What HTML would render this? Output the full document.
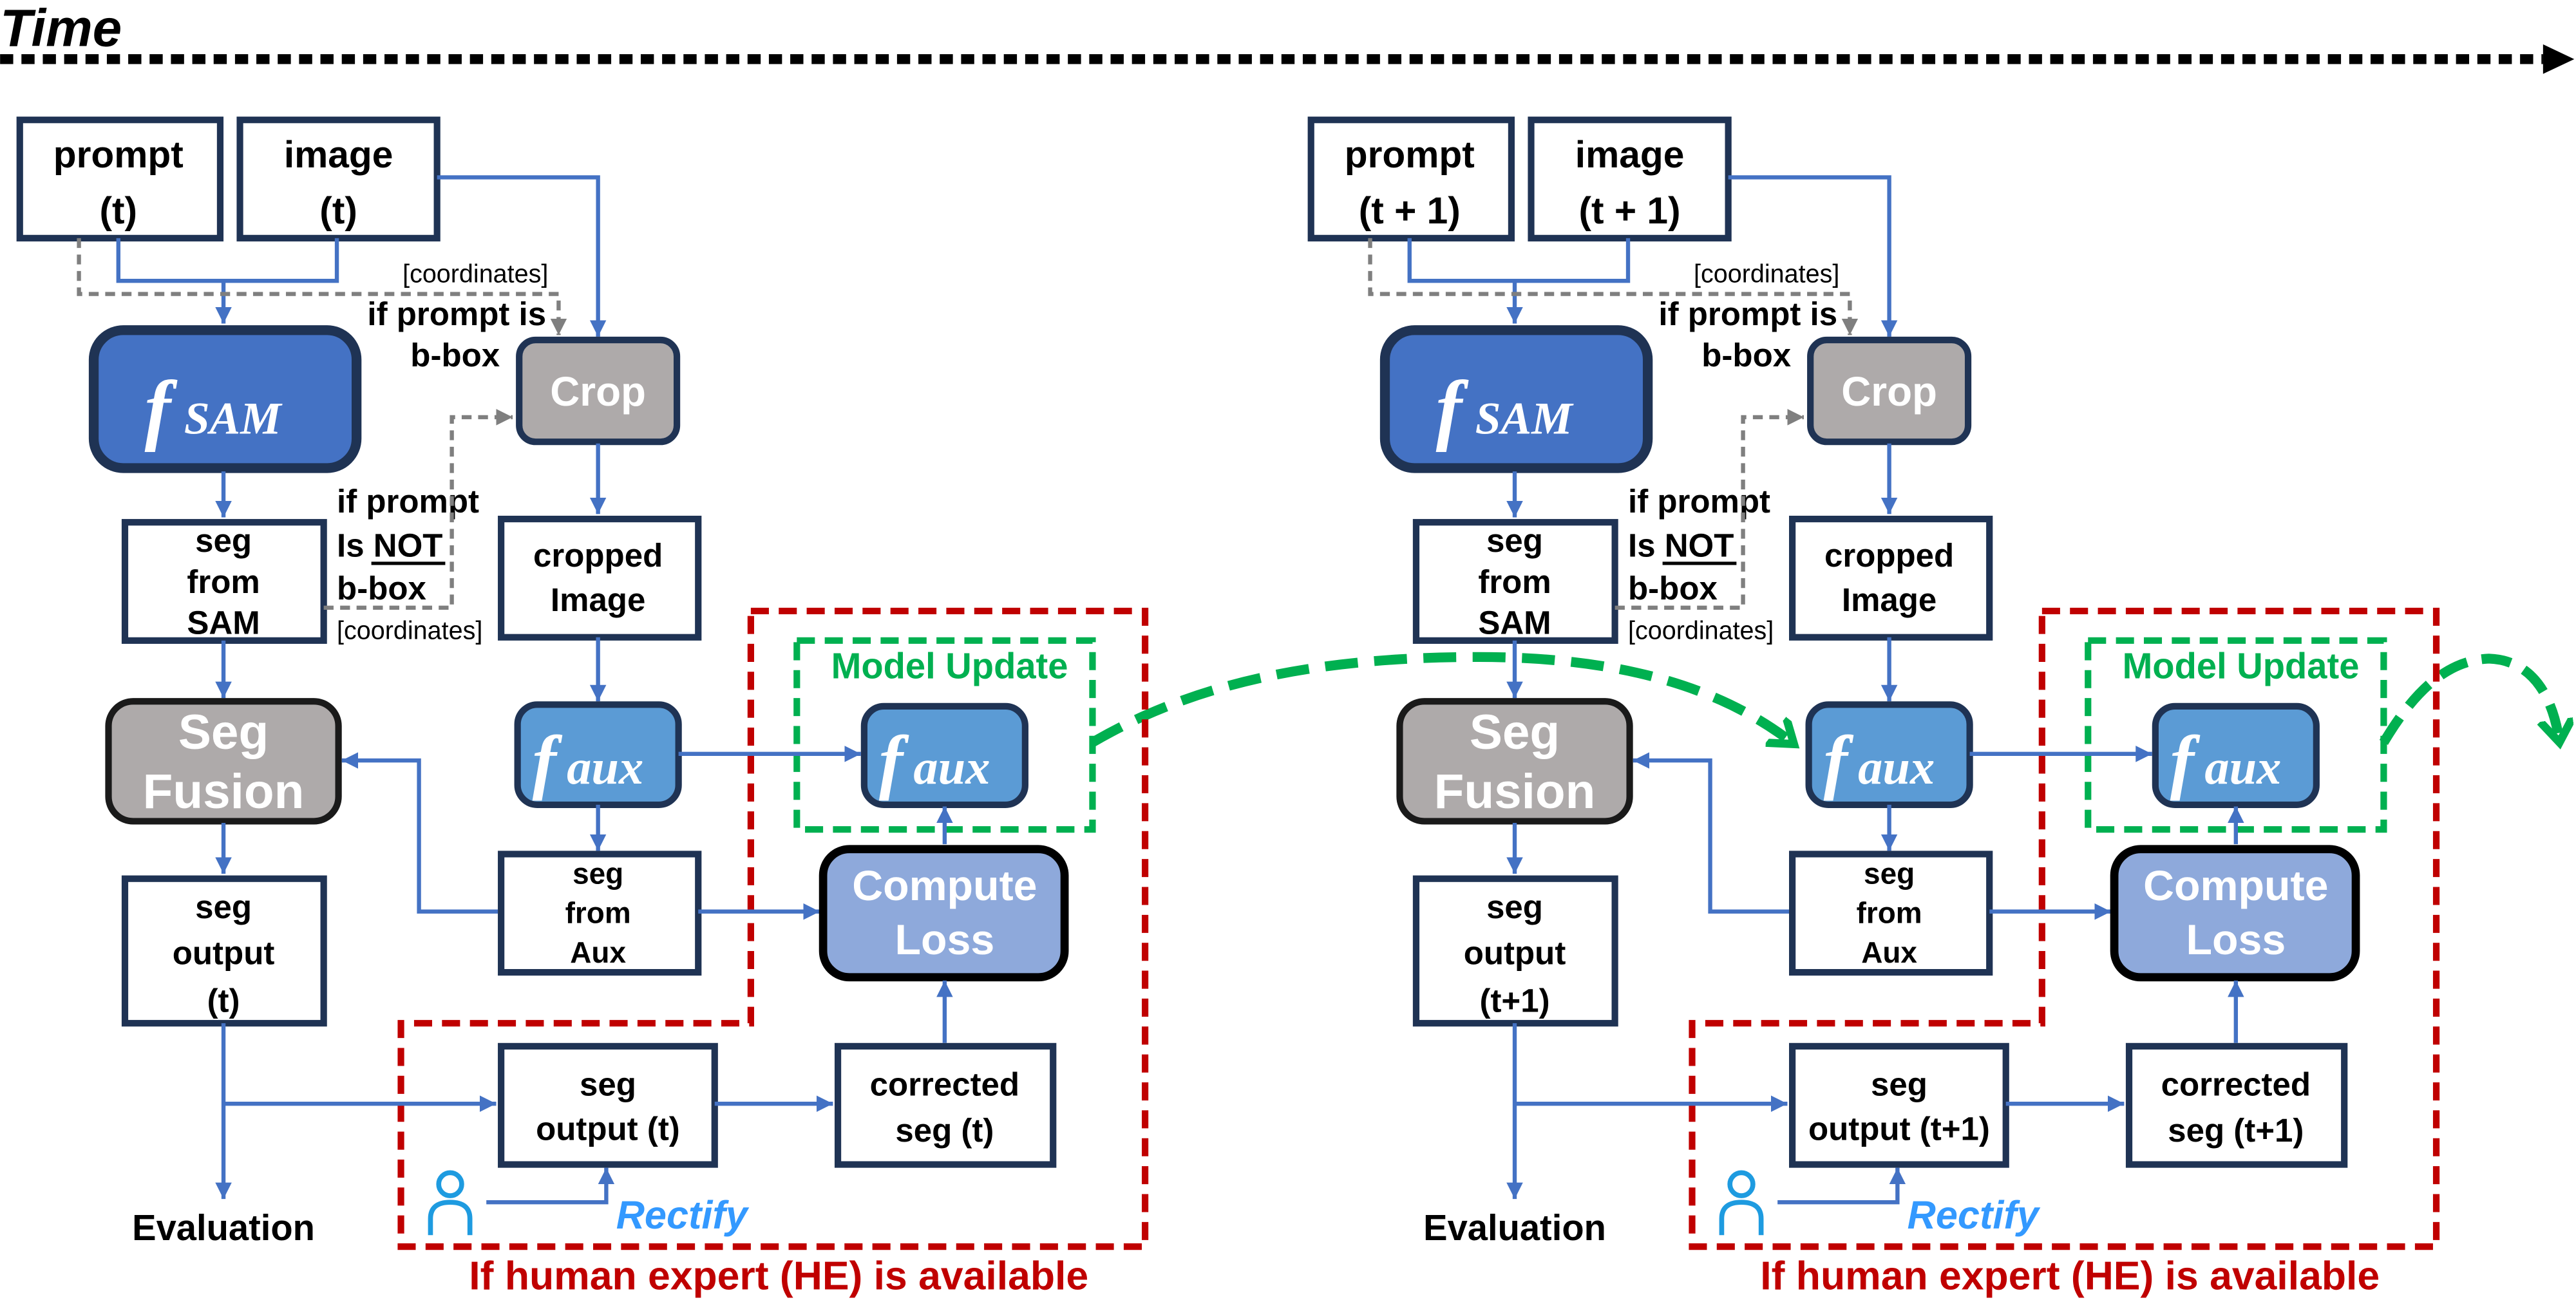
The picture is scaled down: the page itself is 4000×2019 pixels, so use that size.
<!DOCTYPE html>
<html><head><meta charset="utf-8"><style>
html,body{margin:0;padding:0;background:#fff;}
svg{display:block;}
text{font-family:"Liberation Sans",sans-serif;}
.bt{font-weight:bold;font-size:23px;fill:#000;text-anchor:middle;}
.st{font-weight:bold;font-size:20px;fill:#000;text-anchor:middle;}
.co{font-size:15.5px;fill:#000;}
.wt{font-weight:bold;font-size:26px;fill:#fff;text-anchor:middle;}
.sf{font-weight:bold;font-size:30px;fill:#fff;text-anchor:middle;}
.box{fill:#fff;stroke:#1F3354;stroke-width:4;}
.bl{fill:none;stroke:#4472C4;stroke-width:2.5;}
.gd{fill:none;stroke:#7F7F7F;stroke-width:2.5;stroke-dasharray:6 4;}
.rd{fill:none;stroke:#C00000;stroke-width:4;stroke-dasharray:11 6;}
.gr{fill:none;stroke:#00B050;stroke-width:4;stroke-dasharray:11 6;}
.fs{font-family:"Liberation Serif",serif;font-style:italic;font-weight:bold;fill:#fff;}
.mu{font-weight:bold;font-size:22px;fill:#00B050;text-anchor:middle;}
.re{font-style:italic;font-weight:bold;font-size:24px;fill:#3399FF;}
.he{font-weight:bold;font-size:24.5px;fill:#C00000;text-anchor:middle;}
.ev{font-weight:bold;font-size:22px;fill:#000;text-anchor:middle;}
</style></head><body>
<svg width="4000" height="2019" viewBox="0 0 1568 791.5" xmlns="http://www.w3.org/2000/svg">
<defs>
<marker id="ab" markerUnits="userSpaceOnUse" markerWidth="12" markerHeight="12" refX="10" refY="5" orient="auto"><path d="M0,0 L10,5 L0,10 z" fill="#4472C4"/></marker>
<marker id="ag" markerUnits="userSpaceOnUse" markerWidth="12" markerHeight="12" refX="10" refY="5" orient="auto"><path d="M0,0 L10,5 L0,10 z" fill="#7F7F7F"/></marker>
<marker id="agr" markerUnits="userSpaceOnUse" markerWidth="24" markerHeight="24" refX="14" refY="10" orient="auto"><path d="M0,0 L14,10 L0,20" fill="none" stroke="#00B050" stroke-width="5"/></marker>
</defs>

<text x="0" y="28" style="font-style:italic;font-weight:bold;font-size:32px;fill:#000">Time</text>
<line x1="0" y1="36" x2="1548" y2="36" stroke="#000" stroke-width="6" stroke-dasharray="8 5"/>
<path d="M1548,27 L1567,36 L1548,45 z" fill="#000"/>

<path d="M665,452 C720,420 790,400 900,400 C990,400 1050,420 1092,453" fill="none" stroke="#00B050" stroke-width="6" stroke-dasharray="20 10" marker-end="url(#agr)"/>
<path d="M1451,452 C1470,420 1490,402 1515,401 C1545,402 1555,430 1558,452" fill="none" stroke="#00B050" stroke-width="6" stroke-dasharray="18 9" marker-end="url(#agr)"/>

<!-- PANEL 1 -->
<g>
<rect class="box" x="12" y="73" width="122" height="72"/>
<text class="bt" x="72" y="102">prompt</text><text class="bt" x="72" y="136">(t)</text>
<rect class="box" x="146" y="73" width="120" height="72"/>
<text class="bt" x="206" y="102">image</text><text class="bt" x="206" y="136">(t)</text>

<path class="bl" d="M72,145 V171 H205 V145"/>
<path class="bl" d="M136,171 V197" marker-end="url(#ab)"/>
<path class="gd" d="M48,145 V179 H340 V204" marker-end="url(#ag)"/>
<path class="bl" d="M266,108 H364 V205" marker-end="url(#ab)"/>
<text class="co" x="245" y="172">[coordinates]</text>
<text class="st" x="278" y="198">if prompt is</text>
<text class="st" x="277" y="223">b-box</text>

<rect x="57" y="201" width="160" height="84" rx="18" fill="#4472C4" stroke="#1F3354" stroke-width="6"/>
<text class="fs" x="88" y="265" font-size="48">f</text><text class="fs" x="112" y="264" font-size="28">SAM</text>

<rect x="316" y="207" width="96" height="62" rx="10" fill="#AEAAAA" stroke="#1F3354" stroke-width="4"/>
<text x="364" y="247" style="font-size:25px;font-weight:bold;fill:#fff;text-anchor:middle">Crop</text>

<path class="bl" d="M136,287 V315" marker-end="url(#ab)"/>
<path class="bl" d="M364,270 V313" marker-end="url(#ab)"/>

<rect class="box" x="76" y="318" width="121" height="72"/>
<text class="st" x="136" y="336">seg</text><text class="st" x="136" y="361">from</text><text class="st" x="136" y="386">SAM</text>
<rect class="box" x="305" y="316" width="120" height="72"/>
<text class="st" x="364" y="345">cropped</text><text class="st" x="364" y="372">Image</text>

<text class="st" x="205" y="312" style="text-anchor:start">if prompt</text>
<text class="st" x="205" y="339" style="text-anchor:start">Is NOT</text>
<line x1="226" y1="343" x2="271" y2="343" stroke="#000" stroke-width="2"/>
<text class="st" x="205" y="365" style="text-anchor:start">b-box</text>
<text class="co" x="205" y="389">[coordinates]</text>
<path class="gd" d="M197,370 H275 V254 H312" marker-end="url(#ag)"/>

<path class="rd" d="M457,372 H697 V759 H244 V623 H457 Z"/>
<rect class="gr" x="485" y="390" width="180" height="115"/>
<text class="mu" x="578" y="413">Model Update</text>

<path class="bl" d="M136,390 V425" marker-end="url(#ab)"/>
<path class="bl" d="M364,388 V427" marker-end="url(#ab)"/>

<rect x="66" y="427" width="140" height="73" rx="15" fill="#AEAAAA" stroke="#1a1a1a" stroke-width="4"/>
<text class="sf" x="136" y="456">Seg</text><text class="sf" x="136" y="492">Fusion</text>

<rect x="315" y="429" width="98" height="61" rx="12" fill="#5B9BD5" stroke="#1F3354" stroke-width="4"/>
<text class="fs" x="324" y="478" font-size="44">f</text><text class="fs" x="345" y="477" font-size="30">aux</text>
<rect x="526" y="430" width="98" height="60" rx="12" fill="#5B9BD5" stroke="#1F3354" stroke-width="4"/>
<text class="fs" x="535" y="478" font-size="44">f</text><text class="fs" x="556" y="477" font-size="30">aux</text>
<path class="bl" d="M413,459 H524" marker-end="url(#ab)"/>
<path class="bl" d="M364,490 V518" marker-end="url(#ab)"/>

<rect class="box" x="305" y="520" width="120" height="72"/>
<text class="st" x="364" y="538" style="font-size:18px">seg</text><text class="st" x="364" y="562" style="font-size:18px">from</text><text class="st" x="364" y="586" style="font-size:18px">Aux</text>
<path class="bl" d="M303,555 H255 V463 H208" marker-end="url(#ab)"/>
<path class="bl" d="M425,555 H499" marker-end="url(#ab)"/>

<rect x="501" y="517" width="147" height="78" rx="16" fill="#8EA9DB" stroke="#000" stroke-width="5"/>
<text class="wt" x="575" y="548">Compute</text><text class="wt" x="575" y="581">Loss</text>
<path class="bl" d="M575,514 V491" marker-end="url(#ab)"/>

<path class="bl" d="M136,501 V532" marker-end="url(#ab)"/>
<rect class="box" x="76" y="535" width="121" height="88"/>
<text class="st" x="136" y="559">seg</text><text class="st" x="136" y="587">output</text><text class="st" x="136" y="616">(t)</text>

<path class="bl" d="M136,623 V730" marker-end="url(#ab)"/>
<path class="bl" d="M136,672 H302" marker-end="url(#ab)"/>
<text class="ev" x="136" y="755">Evaluation</text>

<rect class="box" x="305" y="637" width="130" height="72"/>
<text class="st" x="370" y="667">seg</text><text class="st" x="370" y="694">output (t)</text>
<path class="bl" d="M435,672 H507" marker-end="url(#ab)"/>
<rect class="box" x="510" y="637" width="131" height="72"/>
<text class="st" x="575" y="667">corrected</text><text class="st" x="575" y="695">seg (t)</text>
<path class="bl" d="M575,635 V597" marker-end="url(#ab)"/>

<circle cx="274" cy="721" r="7" fill="none" stroke="#1E9BE0" stroke-width="3"/>
<path d="M262,752 V742 Q262,732 274,732 Q286,732 286,742 V752" fill="none" stroke="#1E9BE0" stroke-width="3"/>
<path class="bl" d="M296,732 H369 V711" marker-end="url(#ab)"/>
<text class="re" x="375" y="748">Rectify</text>
<text class="he" x="474" y="785">If human expert (HE) is available</text>
</g>

<!-- PANEL 2 -->
<g transform="translate(786,0)">
<rect class="box" x="12" y="73" width="122" height="72"/>
<text class="bt" x="72" y="102">prompt</text><text class="bt" x="72" y="136">(t + 1)</text>
<rect class="box" x="146" y="73" width="120" height="72"/>
<text class="bt" x="206" y="102">image</text><text class="bt" x="206" y="136">(t + 1)</text>

<path class="bl" d="M72,145 V171 H205 V145"/>
<path class="bl" d="M136,171 V197" marker-end="url(#ab)"/>
<path class="gd" d="M48,145 V179 H340 V204" marker-end="url(#ag)"/>
<path class="bl" d="M266,108 H364 V205" marker-end="url(#ab)"/>
<text class="co" x="245" y="172">[coordinates]</text>
<text class="st" x="278" y="198">if prompt is</text>
<text class="st" x="277" y="223">b-box</text>

<rect x="57" y="201" width="160" height="84" rx="18" fill="#4472C4" stroke="#1F3354" stroke-width="6"/>
<text class="fs" x="88" y="265" font-size="48">f</text><text class="fs" x="112" y="264" font-size="28">SAM</text>

<rect x="316" y="207" width="96" height="62" rx="10" fill="#AEAAAA" stroke="#1F3354" stroke-width="4"/>
<text x="364" y="247" style="font-size:25px;font-weight:bold;fill:#fff;text-anchor:middle">Crop</text>

<path class="bl" d="M136,287 V315" marker-end="url(#ab)"/>
<path class="bl" d="M364,270 V313" marker-end="url(#ab)"/>

<rect class="box" x="76" y="318" width="121" height="72"/>
<text class="st" x="136" y="336">seg</text><text class="st" x="136" y="361">from</text><text class="st" x="136" y="386">SAM</text>
<rect class="box" x="305" y="316" width="120" height="72"/>
<text class="st" x="364" y="345">cropped</text><text class="st" x="364" y="372">Image</text>

<text class="st" x="205" y="312" style="text-anchor:start">if prompt</text>
<text class="st" x="205" y="339" style="text-anchor:start">Is NOT</text>
<line x1="226" y1="343" x2="271" y2="343" stroke="#000" stroke-width="2"/>
<text class="st" x="205" y="365" style="text-anchor:start">b-box</text>
<text class="co" x="205" y="389">[coordinates]</text>
<path class="gd" d="M197,370 H275 V254 H312" marker-end="url(#ag)"/>

<path class="rd" d="M457,372 H697 V759 H244 V623 H457 Z"/>
<rect class="gr" x="485" y="390" width="180" height="115"/>
<text class="mu" x="578" y="413">Model Update</text>

<path class="bl" d="M136,390 V425" marker-end="url(#ab)"/>
<path class="bl" d="M364,388 V427" marker-end="url(#ab)"/>

<rect x="66" y="427" width="140" height="73" rx="15" fill="#AEAAAA" stroke="#1a1a1a" stroke-width="4"/>
<text class="sf" x="136" y="456">Seg</text><text class="sf" x="136" y="492">Fusion</text>

<rect x="315" y="429" width="98" height="61" rx="12" fill="#5B9BD5" stroke="#1F3354" stroke-width="4"/>
<text class="fs" x="324" y="478" font-size="44">f</text><text class="fs" x="345" y="477" font-size="30">aux</text>
<rect x="526" y="430" width="98" height="60" rx="12" fill="#5B9BD5" stroke="#1F3354" stroke-width="4"/>
<text class="fs" x="535" y="478" font-size="44">f</text><text class="fs" x="556" y="477" font-size="30">aux</text>
<path class="bl" d="M413,459 H524" marker-end="url(#ab)"/>
<path class="bl" d="M364,490 V518" marker-end="url(#ab)"/>

<rect class="box" x="305" y="520" width="120" height="72"/>
<text class="st" x="364" y="538" style="font-size:18px">seg</text><text class="st" x="364" y="562" style="font-size:18px">from</text><text class="st" x="364" y="586" style="font-size:18px">Aux</text>
<path class="bl" d="M303,555 H255 V463 H208" marker-end="url(#ab)"/>
<path class="bl" d="M425,555 H499" marker-end="url(#ab)"/>

<rect x="501" y="517" width="147" height="78" rx="16" fill="#8EA9DB" stroke="#000" stroke-width="5"/>
<text class="wt" x="575" y="548">Compute</text><text class="wt" x="575" y="581">Loss</text>
<path class="bl" d="M575,514 V491" marker-end="url(#ab)"/>

<path class="bl" d="M136,501 V532" marker-end="url(#ab)"/>
<rect class="box" x="76" y="535" width="121" height="88"/>
<text class="st" x="136" y="559">seg</text><text class="st" x="136" y="587">output</text><text class="st" x="136" y="616">(t+1)</text>

<path class="bl" d="M136,623 V730" marker-end="url(#ab)"/>
<path class="bl" d="M136,672 H302" marker-end="url(#ab)"/>
<text class="ev" x="136" y="755">Evaluation</text>

<rect class="box" x="305" y="637" width="130" height="72"/>
<text class="st" x="370" y="667">seg</text><text class="st" x="370" y="694">output (t+1)</text>
<path class="bl" d="M435,672 H507" marker-end="url(#ab)"/>
<rect class="box" x="510" y="637" width="131" height="72"/>
<text class="st" x="575" y="667">corrected</text><text class="st" x="575" y="695">seg (t+1)</text>
<path class="bl" d="M575,635 V597" marker-end="url(#ab)"/>

<circle cx="274" cy="721" r="7" fill="none" stroke="#1E9BE0" stroke-width="3"/>
<path d="M262,752 V742 Q262,732 274,732 Q286,732 286,742 V752" fill="none" stroke="#1E9BE0" stroke-width="3"/>
<path class="bl" d="M296,732 H369 V711" marker-end="url(#ab)"/>
<text class="re" x="375" y="748">Rectify</text>
<text class="he" x="474" y="785">If human expert (HE) is available</text>
</g>
</svg>
</body></html>
